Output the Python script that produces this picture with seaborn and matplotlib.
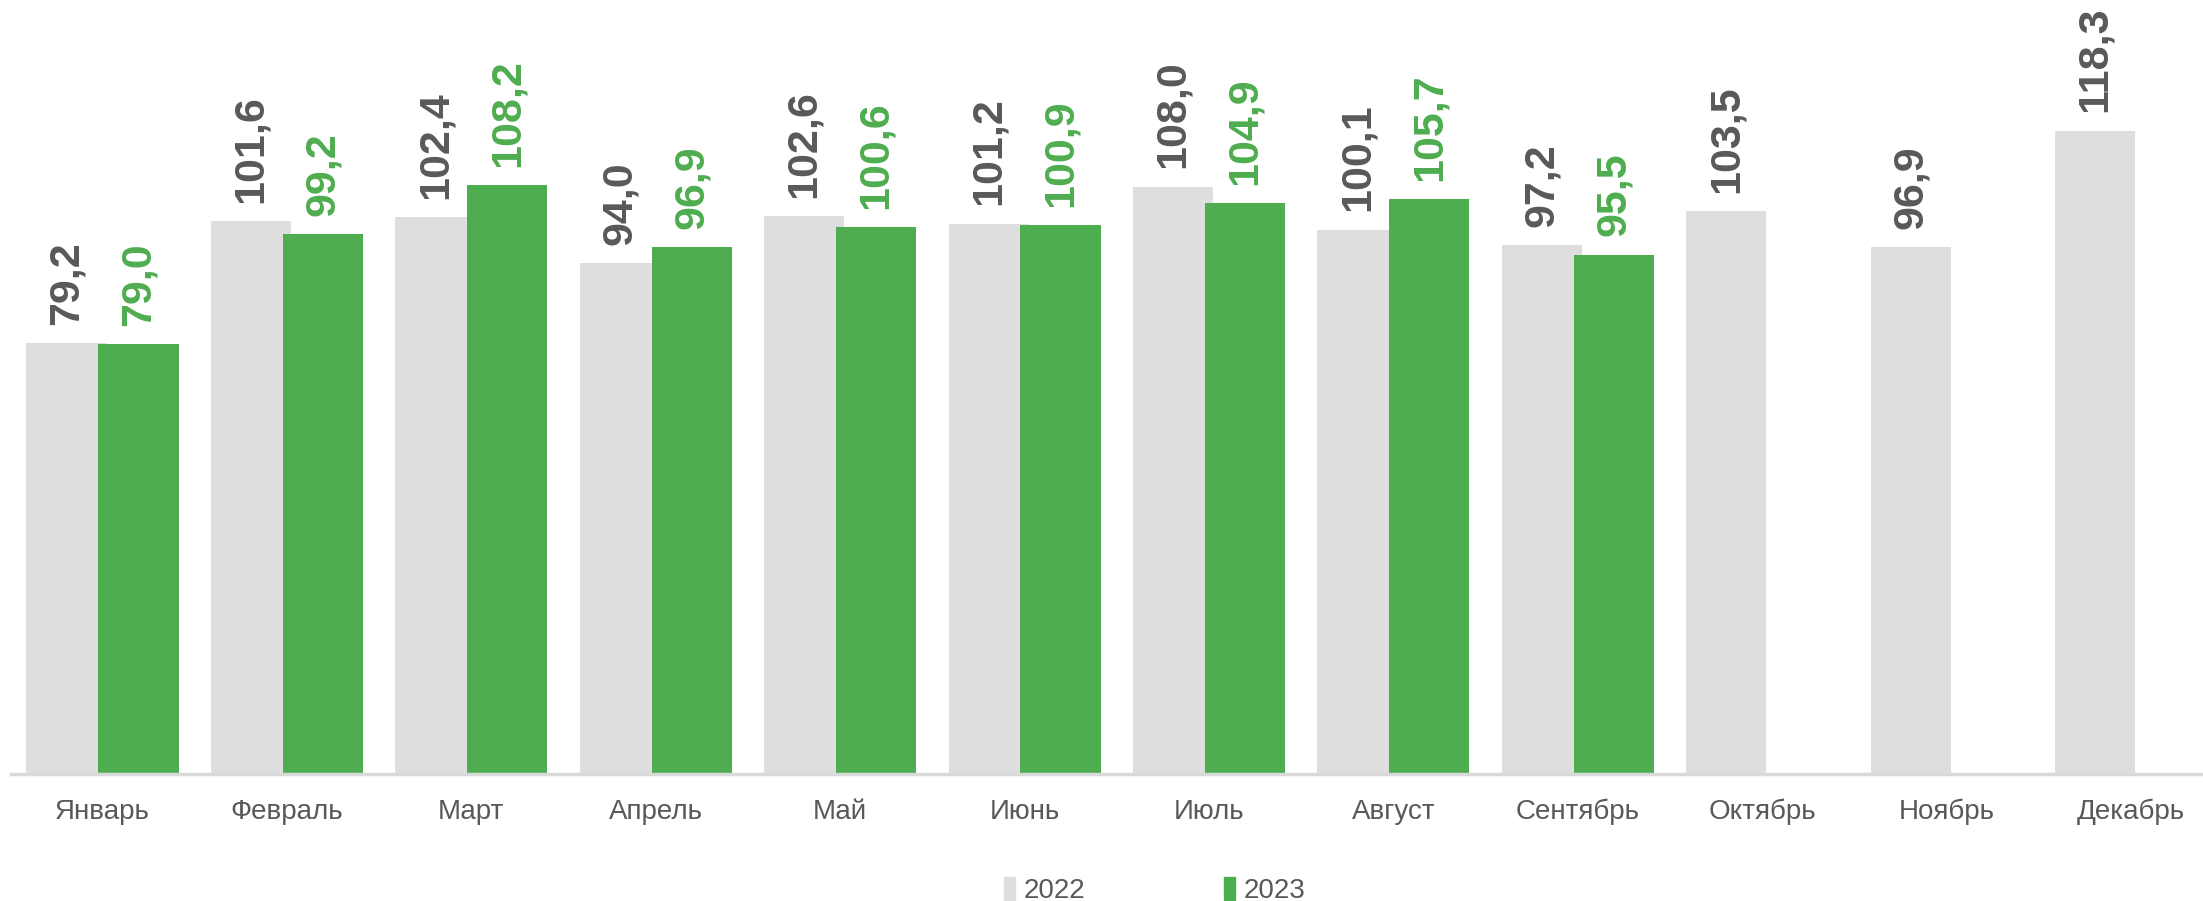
import pandas as pd
import numpy as np
import matplotlib
matplotlib.use("Agg")
import matplotlib.pyplot as plt
import seaborn as sns

months = ["Январь", "Февраль", "Март", "Апрель", "Май", "Июнь",
          "Июль", "Август", "Сентябрь", "Октябрь", "Ноябрь", "Декабрь"]
years = ["2022", "2023"]
values_2022 = [79.2, 101.6, 102.4, 94.0, 102.6, 101.2, 108.0, 100.1, 97.2, 103.5, 96.9, 118.3]
values_2023 = [79.0, 99.2, 108.2, 96.9, 100.6, 100.9, 104.9, 105.7, 95.5, np.nan, np.nan, np.nan]

GRAY = "#DEDEDE"
GREEN = "#4EAD4F"
TEXT = "#595959"

df = pd.DataFrame({
    "month": months * 2,
    "year": [years[0]] * 12 + [years[1]] * 12,
    "value": values_2022 + values_2023,
}).dropna()

sns.set_style("white")
plt.rcParams["font.family"] = ["Liberation Sans", "DejaVu Sans"]

fig = plt.figure(figsize=(22.03, 9.01), dpi=100)
ax = fig.add_axes([0.005, 0.141, 0.995, 0.859])

sns.barplot(data=df, x="month", y="value", hue="year", order=months,
            hue_order=years, palette=[GRAY, GREEN], width=0.78,
            saturation=1, ax=ax, legend=False)

# widen the bars a bit so they overlap like in the original
bar_w = 0.435
for cont in ax.containers:
    for p in cont:
        c = p.get_x() + p.get_width() / 2
        p.set_width(bar_w)
        p.set_x(c - bar_w / 2)
        p.set_edgecolor("none")

for cont, col in zip(ax.containers, [TEXT, GREEN]):
    labs = [f"{p.get_height():.1f}".replace(".", ",") for p in cont]
    ax.bar_label(cont, labels=labs, rotation=90, padding=13, color=col,
                 fontsize=31, fontweight="bold")

ax.set_ylim(0, 142.3)
ax.set_xlim(-0.496, 11.39)
ax.set_xlabel("")
ax.set_ylabel("")
ax.set_yticks([])
ax.tick_params(axis="x", length=0, pad=18, labelsize=20, labelcolor=TEXT)
for s in ["top", "left", "right"]:
    ax.spines[s].set_visible(False)
ax.spines["bottom"].set_color("#D9D9D9")
ax.spines["bottom"].set_linewidth(2.5)

handles = [plt.Rectangle((0, 0), 1, 1, color=GRAY),
           plt.Rectangle((0, 0), 1, 1, color=GREEN)]
fig.legend(handles, years, loc="lower center", bbox_to_anchor=(0.524, -0.031),
           ncol=2, frameon=False, fontsize=20, labelcolor=TEXT,
           handlelength=0.4, handleheight=0.9, handletextpad=0.3,
           columnspacing=5.0)

fig.savefig("out.png", dpi=100)
